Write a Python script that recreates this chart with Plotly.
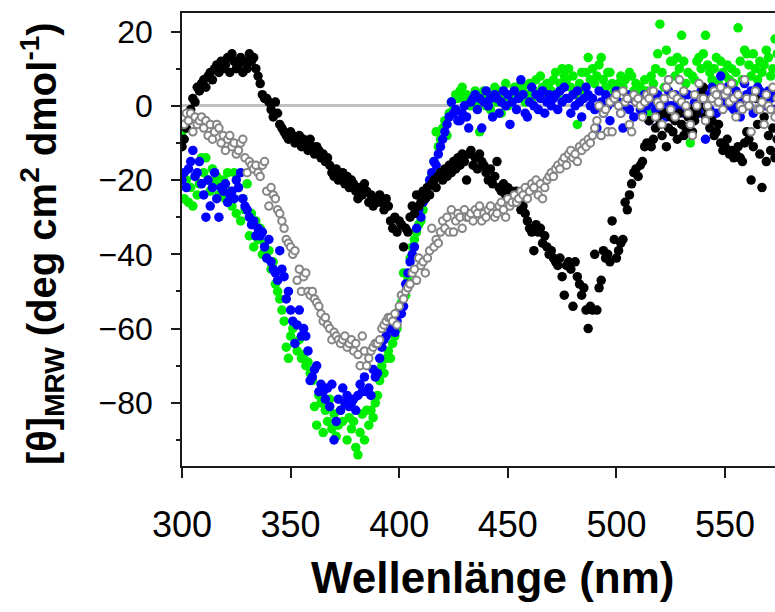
import plotly.graph_objects as go

# Wavelength grid (nm), one reading per nanometre
wavelength = list(range(300, 575))

# Mean residue ellipticity, deg cm^2 dmol^-1
series_black = [
    -11, -9, -6, -4, -1, 2, 1, 5, 4, 6,
    7, 5, 8, 9, 7, 10, 11, 9, 12, 10,
    11, 13, 9, 14, 12, 10, 11, 13, 9, 12,
    10, 14, 12, 13, 10, 8, 6, 3, 2, 2,
    1, -1, -3, 1, -2, -5, -6, -7, -8, -9,
    -7, -8, -10, -9, -8, -11, -9, -10, -12, -9,
    -11, -13, -11, -12, -14, -13, -15, -14, -16, -18,
    -19, -17, -20, -19, -18, -21, -19, -22, -20, -21,
    -23, -25, -22, -24, -21, -23, -26, -24, -27, -25,
    -26, -24, -26, -28, -25, -27, -31, -33, -30, -34,
    -31, -32, -38, -33, -34, -30, -27, -29, -24, -27,
    -26, -23, -25, -22, -24, -21, -20, -22, -19, -18,
    -20, -17, -19, -16, -18, -15, -17, -14, -16, -13,
    -15, -20, -13, -12, -16, -14, -17, -13, -15, -16,
    -18, -20, -17, -21, -19, -15, -22, -23, -21, -24,
    -22, -25, -23, -24, -23, -26, -28, -27, -29, -31,
    -33, -34, -39, -32, -34, -33, -37, -35, -38, -40,
    -39, -41, -42, -43, -41, -46, -51, -43, -42, -44,
    -54, -42, -46, -48, -51, -49, -55, -60, -54, -55,
    -40, -55, -49, -47, -39, -41, -40, -42, -31, -36,
    -41, -39, -37, -36, -26, -28, -24, -21, -18, -17,
    -19, -16, -15, -11, -10, -4, -11, -9, -6, -3,
    -5, -8, -2, -11, -6, -3, -7, -4, -9, -2,
    -5, -8, -6, -3, -1, -7, -4, -2, 0, 3,
    5, -3, -1, -6, -4, -8, -7, -5, -10, -12,
    -11, -9, -13, -12, -14, -13, -11, -14, -15, -10,
    -7, -9, -20, -11, 2, -5, -13, -22, -3, -15,
    -8, -12, -6, -14, -9,
]

series_green = [
    -7, -25, -20, -26, -22, -27, -19, -24, -21, -14,
    -18, -14, -20, -23, -17, -21, -19, -24, -22, -20,
    -25, -18, -23, -27, -18, -29, -22, -31, -25, -28,
    -21, -35, -29, -38, -31, -36, -33, -40, -37, -41,
    -39, -44, -42, -48, -50, -52, -55, -58, -65, -68,
    -62, -60, -64, -66, -63, -68, -67, -70, -69, -72,
    -74, -81, -86, -78, -80, -88, -82, -85, -79, -87,
    -83, -89, -86, -82, -85, -80, -90, -84, -87, -85,
    -92, -94, -88, -83, -90, -82, -86, -82, -84, -80,
    -78, -74, -70, -72, -68, -66, -68, -64, -62, -60,
    -55, -53, -45, -51, -47, -41, -38, -36, -34, -32,
    -31, -28, -25, -22, -20, -19, -15, -7, -11, -9,
    -6, -4, -8, -2, 1, -1, 3, 2, 4, 5,
    2, 3, 1, 0, 2, 4, 1, -7, 3, 4,
    0, 2, -1, 3, 5, 1, 4, -2, 2, 6,
    0, 3, 1, 5, 2, 4, 6, 5, 1, 3,
    6, 2, 4, 7, 3, 8, 5, 2, 6, 6,
    4, 7, 9, 3, 6, 10, 8, 7, 10, 5,
    8, 3, -5, 6, 9, 4, 9, 13, 7, 10,
    6, 8, 11, 13, 7, 5, 9, 9, 6, 4,
    3, 6, 8, 5, 7, 2, 9, 8, 4, 6,
    3, 5, 0, 7, 4, -2, 8, 6, 10, 14,
    22, 9, 5, 15, 7, 12, 12, 8, 13, 10,
    19, 12, 6, 9, -10, 8, 7, 12, 13, 10,
    14, 19, 11, 9, 7, 10, 13, 6, 12, 9,
    8, 11, 7, 10, 6, 9, 21, 12, 7, 15,
    14, 11, 8, 14, 10, 7, 12, 9, 11, 15,
    13, 8, 10, 18, 14,
]

series_blue = [
    -20, -18, -22, -17, -15, -12, -19, -18, -15, -21,
    -24, -30, -20, -27, -22, -18, -25, -30, -22, -23,
    -21, -26, -24, -23, -25, -20, -22, -18, -25, -27,
    -28, -30, -32, -31, -35, -33, -35, -34, -38, -41,
    -36, -42, -44, -45, -47, -39, -44, -46, -52, -50,
    -55, -58, -64, -59, -55, -62, -60, -62, -66, -74,
    -73, -71, -70, -77, -75, -77, -79, -76, -81, -75,
    -90, -85, -79, -82, -76, -80, -78, -81, -80, -79,
    -82, -78, -75, -77, -73, -77, -76, -78, -71, -73,
    -72, -68, -65, -63, -62, -58, -60, -59, -61, -58,
    -56, -56, -54, -48, -45, -42, -40, -38, -33, -28,
    -30, -26, -25, -22, -20, -18, -15, -16, -13, -11,
    -9, -7, -5, -3, 1, -2, -1, -4, -4, -2,
    0, -3, -6, 1, 2, 3, -1, 2, -6, 1,
    4, 0, 2, -3, 3, 2, -2, 1, 4, 0,
    3, -5, 1, 4, -1, 2, 7, 3, -2, -3,
    1, 5, 0, 3, -1, 2, 4, -2, 1, 3,
    0, 2, 3, -1, 4, 1, 5, 2, 2, -2,
    3, 0, 4, 1, -3, 2, 5, 3, 0, 2,
    -1, -6, 4, 1, -2, 3, 0, -4, 2, 1,
    4, 1, -2, -6, 0, 3, -1, 2, -3, 1,
    2, -1, -2, 3, 0, -4, 1, 2, -1, 3,
    2, -1, 1, -3, 4, 0, -2, 3, 1, -1,
    2, -2, 0, 3, -1, -4, 1, 2, -2, 4,
    0, -9, 3, -1, 5, 2, -2, 4, 8, 1,
    3, 5, 0, 2, -1, 4, 1, -3, 2, 6,
    3, 0, 4, -2, 2, 5, 4, 1, 3, 0,
    4, 2, -1, 3, 5,
]

series_open = [
    -3, -5, -2, -4, -2, -7, -3, -5, -4, -3,
    -6, -4, -8, -5, -9, -7, -5, -6, -10, -8,
    -12, -9, -8, -11, -10, -13, -12, -10, -9, -14,
    -18, -15, -16, -17, -16, -18, -19, -16, -15, -23,
    -27, -22, -24, -25, -28, -29, -31, -33, -36, -37,
    -38, -40, -39, -47, -44, -50, -46, -45, -50, -51,
    -50, -52, -53, -54, -56, -58, -57, -59, -60, -63,
    -61, -62, -63, -64, -63, -62, -65, -64, -63, -66,
    -64, -67, -70, -62, -66, -70, -68, -66, -65, -64,
    -64, -63, -60, -59, -58, -57, -57, -58, -56, -59,
    -54, -51, -52, -50, -49, -48, -45, -44, -47, -41,
    -43, -42, -45, -41, -39, -33, -38, -36, -37, -34,
    -31, -33, -30, -34, -28, -34, -31, -29, -30, -33,
    -28, -30, -30, -29, -31, -28, -29, -27, -31, -29,
    -30, -28, -27, -29, -30, -29, -27, -26, -28, -30,
    -25, -27, -26, -24, -26, -25, -23, -24, -22, -25,
    -23, -21, -22, -20, -24, -21, -25, -22, -20, -19,
    -18, -19, -17, -16, -17, -15, -14, -16, -13, -12,
    -14, -13, -15, -11, -12, -10, -11, -9, -10, -8,
    -6, -4, 0, -8, -2, -1, -7, 1, -7, 2,
    3, 0, -2, 4, 1, 2, -5, -7, 3, 1,
    2, 0, -3, 1, 3, 2, 4, 4, -3, 1,
    0, -5, 2, 5, 7, -1, 3, -3, 2, 7,
    1, 4, 0, -2, -5, -8, 3, 0, 6, 2,
    2, -4, 0, -2, 2, 4, 3, 1, 5, -1,
    3, 4, 1, 6, 2, -3, 3, 0, -1, 7,
    2, 0, -7, 2, 4, -1, -1, 1, -5, 3,
    0, -1, 5, -3, 2,
]

x_ticks = [300, 350, 400, 450, 500, 550]
y_ticks = [-80, -60, -40, -20, 0, 20]

FONT = "Liberation Sans, Arial, sans-serif"
AXIS_COLOR = "#1a1a1a"

fig = go.Figure()

filled = [
    (series_green, "#00ee00"),
    (series_blue, "#0000ff"),
    (series_black, "#000000"),
]
for values, color in filled:
    fig.add_trace(go.Scatter(
        x=wavelength, y=values, mode="markers",
        marker=dict(symbol="circle", size=9.5, color=color, line=dict(width=0)),
        showlegend=False,
    ))

fig.add_trace(go.Scatter(
    x=wavelength, y=series_open, mode="markers",
    marker=dict(symbol="circle", size=7.5, color="white",
                line=dict(width=2, color="#858585")),
    showlegend=False,
))

fig.update_layout(
    width=775, height=612,
    margin=dict(l=182, r=0, t=13, b=146),
    paper_bgcolor="white", plot_bgcolor="white",
    font=dict(family=FONT, color="black"),
    xaxis=dict(
        range=[300, 573], tickvals=x_ticks, ticks="outside", ticklen=10,
        tickwidth=1.5, tickcolor=AXIS_COLOR, showline=True, linewidth=1.5,
        linecolor=AXIS_COLOR, mirror=True, showgrid=False, zeroline=False,
        tickfont=dict(size=36, family=FONT), ticklabelstandoff=16,
    ),
    yaxis=dict(
        range=[-97, 25], tickvals=y_ticks, ticks="outside", ticklen=9,
        tickwidth=1.5, tickcolor=AXIS_COLOR, showline=True, linewidth=1.5,
        linecolor=AXIS_COLOR, showgrid=False,
        zeroline=True, zerolinecolor="#c0c0c0", zerolinewidth=3,
        tickfont=dict(size=32, family=FONT), ticklabelstandoff=12,
        minor=dict(dtick=10, tick0=0, ticks="outside", ticklen=4,
                   tickwidth=1.5, tickcolor=AXIS_COLOR),
    ),
    annotations=[
        dict(
            text="<b>Wellenlänge (nm)</b>", xref="paper", yref="paper",
            x=0.523, y=-0.247, xanchor="center", yanchor="middle",
            showarrow=False, font=dict(size=44, family=FONT),
        ),
        dict(
            text="<b>[θ]<sub>MRW</sub> (deg cm<sup>2</sup> dmol<sup>-1</sup>)</b>",
            xref="paper", yref="paper", x=-0.236, y=0.49,
            xanchor="center", yanchor="middle", textangle=-90,
            showarrow=False, font=dict(size=40, family=FONT),
        ),
    ],
)

fig.write_html("out.html")
